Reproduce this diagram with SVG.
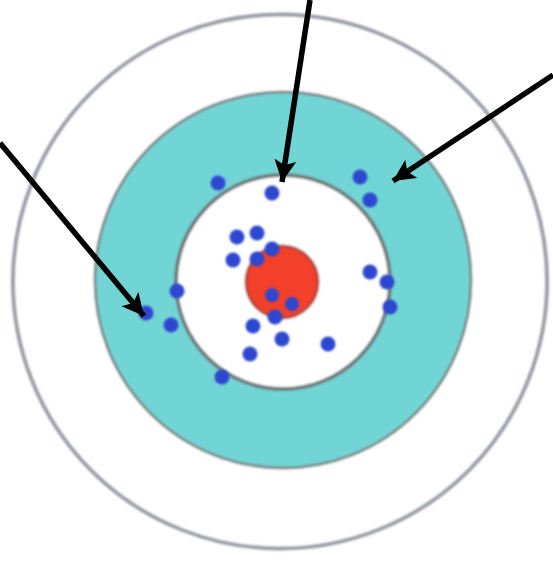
<svg xmlns="http://www.w3.org/2000/svg" width="553" height="562" viewBox="0 0 553 562">
  <style>
    .ring { stroke-width: 4; }
    .dot { fill: #2d47d0; }
    .arrow { stroke: #000; stroke-width: 5.5; fill: none; stroke-linecap: butt; }
  </style>
  <defs>
    <filter id="soft" x="-5%" y="-5%" width="110%" height="110%">
      <feGaussianBlur stdDeviation="1.1"/>
    </filter>
    <filter id="softdot" x="-50%" y="-50%" width="200%" height="200%">
      <feGaussianBlur stdDeviation="1"/>
    </filter>
    <marker id="head" markerUnits="userSpaceOnUse" markerWidth="26" markerHeight="26" refX="22" refY="11" orient="auto">
      <polygon points="0,0 22,11 0,22 5,11" fill="#000"/>
    </marker>
  </defs>
  <rect width="553" height="562" fill="#ffffff"/>
  <g id="target" filter="url(#soft)">
    <g id="outer-ring">
      <circle cx="280" cy="281.5" r="267" fill="#ffffff" stroke="#9a9ea6" class="ring"/>
    </g>
    <g id="teal-ring">
      <circle cx="283" cy="280" r="188" fill="#72d5d5" stroke="#7a8c8e" stroke-width="3"/>
    </g>
    <g id="inner-ring">
      <circle cx="283" cy="282" r="107" fill="#ffffff" stroke="#6f7a7b" stroke-width="4"/>
    </g>
    <g id="bullseye">
      <circle cx="282" cy="282" r="36" fill="#f2402a" stroke="#b5473a" stroke-width="3"/>
    </g>
  </g>
  <g id="hits" filter="url(#softdot)">
    <circle class="dot" cx="218" cy="183" r="7.5"/>
    <circle class="dot" cx="272" cy="193" r="7.5"/>
    <circle class="dot" cx="360" cy="177" r="7.5"/>
    <circle class="dot" cx="370" cy="200" r="7.5"/>
    <circle class="dot" cx="237" cy="237" r="7.5"/>
    <circle class="dot" cx="257" cy="233" r="7.5"/>
    <circle class="dot" cx="233" cy="260" r="7.5"/>
    <circle class="dot" cx="257" cy="259" r="7.5"/>
    <circle class="dot" cx="272" cy="249" r="7.5"/>
    <circle class="dot" cx="370" cy="272" r="7.5"/>
    <circle class="dot" cx="387" cy="282" r="7.5"/>
    <circle class="dot" cx="390" cy="307" r="7.5"/>
    <circle class="dot" cx="177" cy="291" r="7.5"/>
    <circle class="dot" cx="171" cy="325" r="7.5"/>
    <circle class="dot" cx="146" cy="313" r="7.5"/>
    <circle class="dot" cx="272" cy="295" r="7"/>
    <circle class="dot" cx="292" cy="304" r="7"/>
    <circle class="dot" cx="275" cy="317" r="7.5"/>
    <circle class="dot" cx="253" cy="326" r="7.5"/>
    <circle class="dot" cx="282" cy="339" r="7.5"/>
    <circle class="dot" cx="328" cy="344" r="7.5"/>
    <circle class="dot" cx="250" cy="354" r="7.5"/>
    <circle class="dot" cx="222" cy="377" r="7.5"/>
  </g>
  <g id="connectors">
    <line class="arrow" x1="0" y1="143" x2="144" y2="316" marker-end="url(#head)"/>
    <line class="arrow" x1="310" y1="0" x2="282" y2="182" marker-end="url(#head)"/>
    <line class="arrow" x1="553" y1="75" x2="393" y2="181" marker-end="url(#head)"/>
  </g>
</svg>
